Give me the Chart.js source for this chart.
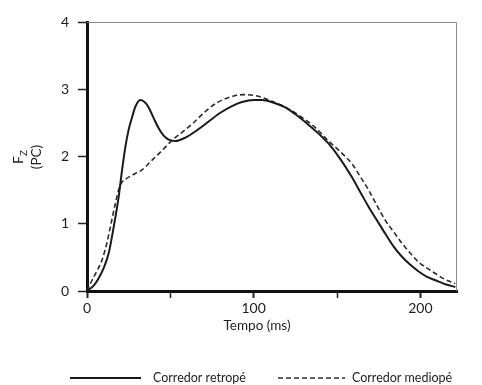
<!DOCTYPE html>
<html>
<head>
<meta charset="utf-8">
<script src="https://cdn.jsdelivr.net/npm/chart.js@4/dist/chart.umd.min.js"></script>
<style>
  html, body { margin: 0; padding: 0; background: #fff; }
  #wrap { width: 482px; height: 385px; }
</style>
</head>
<body>
<div id="wrap"><canvas id="chart" width="482" height="385"></canvas></div>
<script>
// Fz (PC) over time (ms)
const retropeTime = [0, 4, 7, 10, 13, 16, 19, 21, 23, 25, 27, 29, 32, 35, 37, 40, 43, 46, 49, 53, 59, 66, 73, 80, 87, 93, 100, 105, 112, 119, 126, 133, 139, 145, 152, 159, 164, 169, 174, 179, 184, 189, 194, 199, 204, 209, 215, 221];
const retropeForce = [0, 0.08, 0.19, 0.34, 0.56, 0.95, 1.40, 1.79, 2.14, 2.40, 2.58, 2.74, 2.84, 2.80, 2.73, 2.57, 2.42, 2.31, 2.25, 2.23, 2.28, 2.39, 2.52, 2.65, 2.75, 2.81, 2.84, 2.84, 2.80, 2.73, 2.61, 2.47, 2.34, 2.19, 1.96, 1.69, 1.47, 1.25, 1.05, 0.85, 0.66, 0.51, 0.39, 0.29, 0.21, 0.16, 0.10, 0.06];

const mediopeTime = [0, 3, 6, 9, 12, 14, 17, 20, 23, 27, 30, 33, 38, 43, 47, 51, 57, 63, 68, 73, 78, 83, 88, 94, 100, 105, 112, 120, 129, 137, 145, 152, 159, 164, 169, 174, 179, 184, 189, 194, 199, 204, 209, 215, 221];
const mediopeForce = [0, 0.16, 0.30, 0.46, 0.72, 0.95, 1.30, 1.58, 1.66, 1.72, 1.76, 1.80, 1.92, 2.04, 2.14, 2.24, 2.36, 2.48, 2.60, 2.71, 2.80, 2.86, 2.90, 2.92, 2.91, 2.88, 2.81, 2.72, 2.58, 2.43, 2.23, 2.07, 1.89, 1.70, 1.50, 1.27, 1.05, 0.88, 0.71, 0.56, 0.43, 0.34, 0.26, 0.17, 0.11];

const seriesLabels = ['Corredor retropé', 'Corredor mediopé'];
const xTickLabels = { 0: '0', 100: '100', 200: '200' };
const yTicks = [0, 1, 2, 3, 4];

const FONT = 'Lato, "Open Sans", "DejaVu Sans", sans-serif';
const INK = '#1e1e1e';

const toPoints = (xs, ys) => xs.map((x, i) => ({ x: x, y: ys[i] }));

// frame, axis titles and the legend
const extrasPlugin = {
  id: 'extras',
  afterDraw(chart) {
    const ctx = chart.ctx;
    const a = chart.chartArea;
    ctx.save();

    // thin top and right border
    ctx.strokeStyle = '#8a8a8a';
    ctx.lineWidth = 1;
    ctx.beginPath();
    ctx.moveTo(a.left, a.top + 0.5);
    ctx.lineTo(a.right - 0.5, a.top + 0.5);
    ctx.lineTo(a.right - 0.5, a.bottom);
    ctx.stroke();

    // y title: F with subscript Z, then (PC), rotated
    ctx.fillStyle = INK;
    ctx.save();
    ctx.translate(23, 157);
    ctx.rotate(-Math.PI / 2);
    ctx.textBaseline = 'alphabetic';
    ctx.textAlign = 'left';
    ctx.font = '14px ' + FONT;
    const fw = ctx.measureText('F').width;
    ctx.font = '10px ' + FONT;
    const zw = ctx.measureText('Z').width;
    const start = -(fw + zw) / 2;
    ctx.font = '14px ' + FONT;
    ctx.fillText('F', start, 0);
    ctx.font = '10px ' + FONT;
    ctx.fillText('Z', start + fw, 4);
    ctx.font = '13.5px ' + FONT;
    ctx.textAlign = 'center';
    ctx.fillText('(PC)', 0, 18);
    ctx.restore();

    // x title
    ctx.font = '13.5px ' + FONT;
    ctx.textAlign = 'center';
    ctx.textBaseline = 'middle';
    ctx.fillText('Tempo (ms)', (a.left + a.right) / 2 - 15, 326);

    // legend
    const items = [
      { x1: 70, x2: 141, tx: 153 },
      { x1: 278, x2: 345, tx: 352 }
    ];
    const ly = 378;
    chart.data.datasets.forEach((ds, i) => {
      const it = items[i];
      ctx.strokeStyle = ds.borderColor;
      ctx.lineWidth = ds.borderWidth;
      ctx.setLineDash(ds.borderDash || []);
      ctx.beginPath();
      ctx.moveTo(it.x1, ly);
      ctx.lineTo(it.x2, ly);
      ctx.stroke();
      ctx.setLineDash([]);
      ctx.fillStyle = INK;
      ctx.font = '12.5px ' + FONT;
      ctx.textAlign = 'left';
      ctx.textBaseline = 'middle';
      ctx.fillText(ds.label, it.tx, ly);
    });
    ctx.restore();
  }
};

new Chart(document.getElementById('chart'), {
  type: 'line',
  data: {
    datasets: [
      {
        label: seriesLabels[0],
        data: toPoints(retropeTime, retropeForce),
        borderColor: '#1a1a1a',
        borderWidth: 2,
        pointRadius: 0,
        cubicInterpolationMode: 'monotone',
        fill: false
      },
      {
        label: seriesLabels[1],
        data: toPoints(mediopeTime, mediopeForce),
        borderColor: '#2b2b2b',
        borderWidth: 1.6,
        borderDash: [5, 3],
        pointRadius: 0,
        cubicInterpolationMode: 'monotone',
        fill: false
      }
    ]
  },
  options: {
    responsive: false,
    animation: false,
    layout: { padding: { top: 22, right: 25, bottom: 54, left: 0 } },
    plugins: {
      legend: { display: false },
      tooltip: { enabled: false }
    },
    scales: {
      x: {
        type: 'linear',
        min: 0,
        max: 222,
        afterFit: (scale) => { scale.height = 40; },
        border: { display: true, color: '#111', width: 3 },
        grid: {
          drawOnChartArea: false,
          drawTicks: true,
          tickLength: 7,
          tickColor: '#222',
          tickWidth: (c) => (c.tick && xTickLabels[c.tick.value] !== undefined ? 2 : 1.5)
        },
        ticks: {
          stepSize: 50,
          includeBounds: false,
          autoSkip: false,
          maxRotation: 0,
          padding: 2,
          color: INK,
          font: { family: FONT, size: 14 },
          callback: (v) => (xTickLabels[v] !== undefined ? xTickLabels[v] : '')
        }
      },
      y: {
        type: 'linear',
        min: 0,
        max: 4,
        afterFit: (scale) => { scale.width = 87; },
        afterBuildTicks: (scale) => { scale.ticks = yTicks.map((v) => ({ value: v })); },
        border: { display: true, color: '#111', width: 3 },
        grid: {
          drawOnChartArea: false,
          drawTicks: true,
          tickLength: 9,
          tickColor: '#222',
          tickWidth: 1.5
        },
        ticks: {
          padding: 9,
          color: INK,
          font: { family: FONT, size: 14 }
        }
      }
    }
  },
  plugins: [extrasPlugin]
});
</script>
</body>
</html>
